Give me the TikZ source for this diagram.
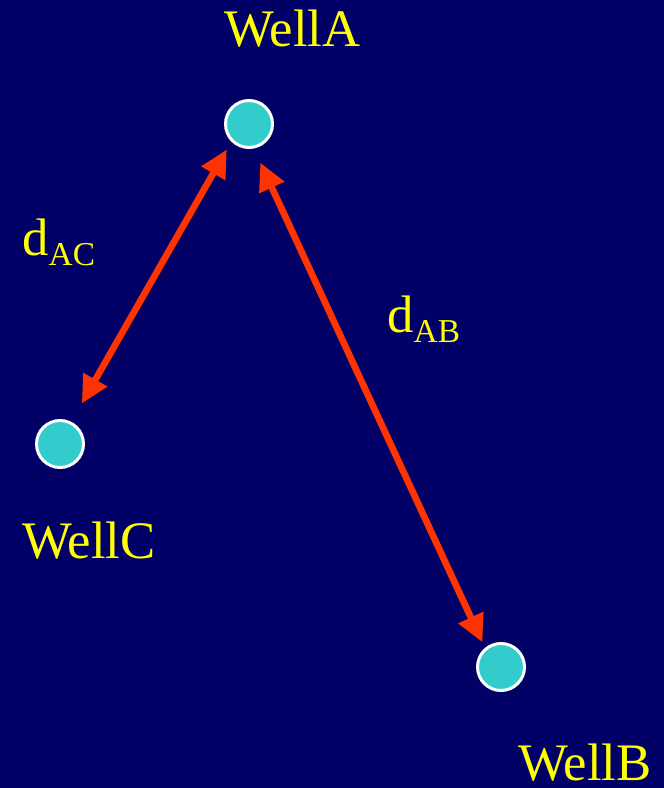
\documentclass[tikz,border=0pt]{standalone}
\usepackage{fontspec}
\setmainfont{Liberation Serif}
\usetikzlibrary{arrows.meta}
\definecolor{BgNavy}{RGB}{0,0,102}
\definecolor{WlTeal}{RGB}{51,204,204}
\definecolor{ArRed}{RGB}{255,51,0}
\definecolor{LbYellow}{RGB}{255,255,0}

\begin{document}
\begin{tikzpicture}[
          wl/.style={circle, fill=WlTeal, draw=white, line width=1.7pt,
                     minimum size=0.94cm, inner sep=0pt},
          lbl/.style={anchor=base west, inner sep=0pt, text=LbYellow,
                      font=\fontsize{30}{34}\selectfont},
          arr/.style={{Triangle[length=0.55cm, width=0.52cm]}-{Triangle[length=0.55cm, width=0.52cm]},
                      draw=ArRed, line width=3.8pt}
        ]
        % Background
        \fill[BgNavy] (0,0) rectangle (13.28,-15.76);
        \useasboundingbox (0,0) rectangle (13.28,-15.76);

        % Wells
        \node[wl] (wa) at (4.98, -2.48)  {};
        \node[wl] (wc) at (1.20, -8.88)  {};
        \node[wl] (wb) at (10.02, -13.34) {};

        % Labels
        \node[lbl] (la) at (4.48, -0.92)  {WellA};
        \node[lbl] (lc) at (0.44, -11.16) {WellC};
        \node[lbl] (lb) at (10.36, -15.60) {WellB};

        % Distances
        \node[lbl] (dac) at (0.44, -5.10)
              {d\raisebox{-6pt}{\fontsize{19}{21}\selectfont AC}};
        \node[lbl] (dab) at (7.74, -6.64)
              {d\raisebox{-6pt}{\fontsize{19}{21}\selectfont AB}};

        \draw[arr, shorten <=0.18cm, shorten >=0.42cm] (wa.-135) -- (wc.63);
        \draw[arr, shorten <=0.31cm, shorten >=0.12cm] (wa.-79) -- (wb.130);
      \end{tikzpicture}
\end{document}
